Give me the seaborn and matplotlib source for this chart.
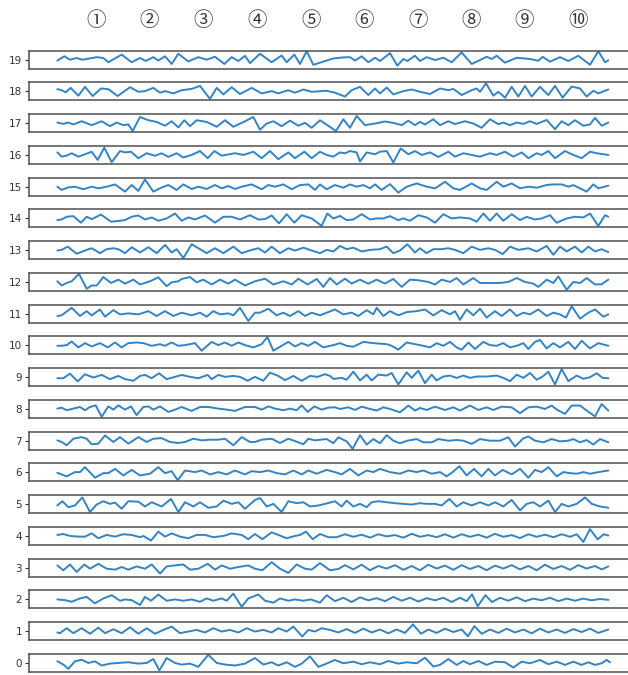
import matplotlib
matplotlib.use("Agg")
import matplotlib.pyplot as plt
import pandas as pd
import seaborn as sns

# Each row: (time, value) pairs
R19 = [(1,-1),(22,4),(39,0),(59,2),(76,0),(99,1.5),(119,3),(139,2),(154,-3),(194,6),(224,-3),(249,2),(266,-1.5),(289,3),(304,-1),(324,4),(344,-5),(364,7),(394,-2),(424,3),(449,0),(474,3.5),(502,-5),(524,3),(544,-1.5),(564,4.5),(579,-4),(609,7),(644,-3),(674,5),(689,-3),(712,6),(729,-5),(749,10),(769,-6),
       (829,1.5),(859,2.7),(879,3),(894,-1),(914,4),(934,-3),(954,2.3),(969,-1.5),(999,7.7),(1021,-7),(1039,0.8),(1051,-1.5),(1074,4.6),(1089,-1.5),(1109,3),(1134,-0.4),(1159,2.3),(1184,-3),(1214,8.5),(1244,-5),(1279,1.5),(1289,3.5),(1304,0.8),(1319,4.6),(1344,-3.5),(1379,2.3),(1419,0.8),(1444,-1.2),(1457,3.5),(1479,-2.3),(1509,3),(1534,-1.5),(1564,4.6),(1599,-6),(1624,10),(1644,-3),(1654,-0.8)]
R18 = [(1,2.7),(14,1.5),(26,-1),(41,4.2),(64,-5),(84,5.4),(107,-5.4),(132,3.5),(154,2.7),(182,-5.4),(219,5),(244,-0.4),(264,0.4),(289,4.2),(309,-1.5),(324,0.4),(349,-2.3),(374,1.5),(404,3),(429,6.5),(459,-8.8),(479,4.2),(499,-3.5),(524,5),(549,-3),(584,4.2),(614,-2.3),(644,0.4),(664,-2.3),(694,1.5),(714,-1.5),(739,2.3),(764,-0.4),
       (809,0.8),(834,-1.5),(864,-6),(884,1.5),(909,5.4),(934,-4.2),(954,3.5),(969,-2.3),(989,4.6),(1009,-3.5),(1039,0.4),(1064,2.3),(1089,-0.4),(1119,-3),(1149,3.5),(1174,1.5),(1189,3),(1214,-4.2),(1244,1.5),(1259,3.5),(1269,-0.4),(1287,9.6),(1309,-5),(1324,-0.4),(1344,-7.3),(1364,5.4),(1384,-6),(1404,6.5),(1424,-6),(1449,5.4),(1474,-4.2),(1494,6.5),(1517,-7.3),(1544,5.8),(1569,3.5),(1589,-6),(1609,0.8),(1624,-2.3),(1654,2.3)]
R17 = [(1,0.8),(19,-0.8),(34,0.8),(49,-1.5),(74,2.3),(104,-2.3),(134,2.3),(159,-3.5),(179,0.8),(199,-2.3),(214,-1.5),(227,-9.2),(249,7.3),(274,3.5),(299,1.5),(324,-3),(344,2.3),(364,-5),(382,3.5),(399,-3.5),(419,3.5),(449,1.5),(479,-4.2),(504,3.5),(529,-4.2),(564,2.3),(589,7.3),(609,-7.7),(629,-0.4),(649,2.3),(674,-3.5),(699,3),(724,-3),(744,0.4),(764,-5.4),(789,3.5),
       (837,-9.2),(859,4.6),(879,-5.4),(899,8.5),(924,-2.3),(954,-0.4),(984,2),(1009,0.4),(1034,-2.3),(1054,3),(1074,-2.3),(1089,1.5),(1104,-1.5),(1129,4.6),(1149,-2.3),(1174,2.3),(1194,-1),(1224,2.3),(1249,-0.4),(1274,-5.4),(1299,4.6),(1324,-1.2),(1339,0.8),(1359,-2.3),(1379,0.8),(1399,-0.8),(1419,2.3),(1439,-0.8),(1469,3.8),(1494,-7),(1514,2.3),(1534,-2.3),(1554,3.5),(1579,-3),(1599,-1.5),(1614,6.2),(1634,-3),(1654,0.8)]
R16 = [(1,3),(14,-2),(29,-0.8),(44,2),(64,-2),(84,0.8),(104,3.8),(122,-5.8),(142,8.5),(164,-8.5),(189,4.6),(204,3),(222,3.8),(244,-3.8),(269,2),(294,-1),(314,2),(334,-2.3),(359,2),(379,-3),(404,0),(429,4.6),(452,-3.8),(472,4.6),(494,-0.8),(534,2),(559,0),(589,3.8),(614,-3.8),(639,4.6),(664,-5),(694,3),(714,-3.8),(742,3.8),(764,-3.8),
       (789,3.8),(809,0),(829,-2),(849,3),(864,1.9),(879,4.6),(899,3),(909,-7.7),(929,3),(954,0.8),(969,3.8),(989,4.6),(1009,-8.8),(1031,7.7),(1054,0.8),(1074,4.6),(1094,0),(1119,3),(1144,-2.3),(1174,3.8),(1194,-2),(1219,2),(1244,0),(1269,-2),(1299,2),(1319,0),(1344,3.8),(1369,-2),(1394,3),(1414,-3.8),(1439,2),(1454,0),(1474,4.6),(1494,-3.8),(1524,4.6),(1549,0),(1574,-3.8),(1599,3.8),(1619,2),(1654,0)]
R15 = [(1,0),(14,-3.8),(34,-0.8),(54,0),(79,-3),(104,0),(124,-1.9),(149,0),(174,2.7),(204,-5.8),(224,2),(244,-5),(264,8.5),(289,-5.8),(314,-1),(334,2),(359,-3.8),(379,2.7),(404,-2.7),(424,0),(449,-2.7),(474,2),(494,-1.9),(514,0.8),(534,-2.7),(554,0),(584,2.7),(614,-3),(634,2),(654,0),(679,2.7),(704,-3),(729,1.9),(754,2.7),(774,-3.8),
       (789,2.7),(809,-3),(834,2),(859,-1.2),(879,2.7),(899,0),(919,1.9),(939,-1.9),(954,2.7),(974,-3.8),(999,3),(1024,-7),(1049,0),(1079,3.8),(1109,0),(1134,-2),(1164,5.8),(1189,-1.9),(1209,-3.8),(1244,3.8),(1269,-1.9),(1289,-3.8),(1319,5.8),(1339,0),(1364,3.8),(1389,-1.9),(1414,0),(1439,-1.2),(1469,2),(1489,2.7),(1514,2.7),(1534,0),(1549,1.9),(1569,-1.9),(1589,-5.8),(1609,2.7),(1624,-1.9),(1654,1.2)]
R14 = [(1,-2),(14,-1.2),(29,2),(49,2.7),(72,-5),(89,2),(104,-0.8),(132,4.6),(162,-3.8),(189,-2.7),(204,-1.9),(224,2),(244,3.5),(264,-1.2),(284,1.2),(304,-2.7),(329,0),(354,5.8),(374,-2.7),(394,1.2),(414,-1.2),(444,3.5),(474,-5),(499,2),(524,2),(549,-1.2),(579,3.8),(604,-1.2),(624,-0.8),(644,3.5),(666,-5.8),(689,5),(712,-5),(734,3.8),(764,0),(794,-8.8),(811,5.8),
       (829,0),(849,3),(869,-2),(889,-1.2),(914,5),(939,-1.2),(959,0),(979,0),(999,2.7),(1024,-2),(1039,0),(1059,-2.7),(1084,3.8),(1109,1.2),(1134,-5),(1159,5),(1184,0),(1209,1.2),(1239,0),(1259,-3.8),(1279,5.8),(1299,-2.7),(1319,5.8),(1339,-2.7),(1364,5),(1389,-1.9),(1409,1.9),(1434,-1.2),(1454,0),(1479,3.8),(1499,-5),(1529,0),(1554,2),(1579,1.2),(1599,5.8),(1624,-8.8),(1644,3.8),(1654,2)]
R13 = [(1,-0.4),(14,0.4),(32,4.2),(59,-4.2),(89,0.4),(104,2.3),(129,-3.5),(149,1.2),(169,2.3),(184,1.2),(204,-3.5),(224,3.5),(249,-2.7),(274,3.5),(299,-3.5),(324,6.2),(344,-2.7),(359,1.2),(379,-9.2),(404,7),(429,1.2),(449,-3.5),(474,2.3),(499,-3.5),(529,4.2),(554,-3.5),(584,0.4),(604,2.3),(624,-2.7),(644,4.2),(669,-3.5),(694,2.3),(714,-0.4),(739,3),(764,-0.4),
       (789,-3.5),(809,0.4),(829,-1.5),(849,5),(869,1.2),(889,3),(914,-1.5),(939,0.4),(969,1.2),(989,4.2),(1009,-3.5),(1029,-0.4),(1051,7),(1074,-2.7),(1089,2.3),(1109,-3.5),(1129,1.2),(1154,1.2),(1174,2.3),(1194,0.4),(1219,-3.5),(1244,4.2),(1269,0.4),(1294,2.3),(1314,0.4),(1337,-4.6),(1359,4.2),(1384,0.4),(1414,2.3),(1439,-1.5),(1469,5),(1489,-5.4),(1509,4.2),(1529,-1.5),(1554,4.2),(1574,-2.7),(1594,4.2),(1614,-1.5),(1634,1.2),(1654,-2.3)]
R12 = [(1,0.8),(14,-4.2),(29,-1.2),(44,0.8),(66,9.6),(89,-8),(104,-4.2),(119,-4.2),(139,5.8),(162,-1.2),(184,2.7),(204,-2),(229,2.7),(249,-3),(279,0.8),(304,5.4),(329,-5),(344,-0.4),(364,0.8),(374,3.5),(399,5.8),(419,-0.4),(439,2.7),(464,-3),(489,2.7),(514,-2),(534,2.7),(564,-4.2),(594,0.8),(624,3.8),(649,-3),(679,0.8),(704,-3),(724,3.8),(752,-3),(779,3.5),(799,-5.8),
       (819,4.6),(839,-3),(864,3.8),(884,-1.9),(909,2.7),(934,-2),(959,2.7),(984,-1.9),(1009,3.5),(1034,-5.8),(1059,2.7),(1084,2),(1114,0),(1134,-3),(1154,2.7),(1179,0),(1199,4.6),(1219,-3),(1249,4.6),(1269,-1.2),(1299,-1.2),(1329,-1.2),(1354,0),(1379,4.6),(1404,0),(1429,-2),(1444,-5.8),(1469,2.7),(1489,-1.2),(1504,6.5),(1529,-9.2),(1549,0),(1569,-1.2),(1589,4.6),(1614,-3),(1634,-2.7),(1654,2.7)]
R11 = [(1,-2.7),(14,-1.9),(44,6.9),(69,-2.7),(89,3),(104,-2),(129,5),(144,-3.5),(169,4.2),(189,-0.8),(214,0.4),(244,-0.8),(274,3),(299,-2.7),(324,3),(349,-2.7),(374,1.2),(404,-1.9),(429,1.2),(449,-3.5),(469,3),(489,-0.8),(514,0.4),(529,-1.9),(549,6.9),(574,-8.5),(594,1.2),(609,1.2),(634,5.8),(659,-1.9),(679,1.2),(699,-2.7),(724,3),(744,-2.7),(764,1.2),(789,-1.9),
       (834,5),(859,-0.8),(884,1.2),(904,-2.7),(929,4.2),(949,-0.8),(959,6.9),(979,-2.7),(999,3),(1024,-1.9),(1049,1.9),(1079,3),(1104,5),(1129,-2),(1154,4.2),(1179,-0.8),(1194,3),(1209,-7.3),(1229,5),(1249,-1.9),(1269,5.8),(1289,-4.6),(1314,3),(1334,-2.7),(1359,5),(1379,-2.7),(1399,1.2),(1419,-0.8),(1444,5),(1469,-2.7),(1489,1.2),(1509,-0.8),(1527,-4.6),(1544,8.8),(1569,-5.8),(1594,1.2),(1614,5),(1639,-3.5),(1654,-0.8)]
R10 = [(1,-0.4),(14,-0.4),(29,0.4),(44,4.6),(64,-2.3),(84,2.7),(104,-1.2),(129,2.7),(152,-2.3),(174,3.5),(194,-2.3),(214,2.7),(239,3.5),(259,2.7),(284,-0.4),(309,1.5),(324,-0.4),(344,3.5),(364,-0.4),(384,0.4),(414,2.7),(434,-6.2),(464,4.2),(484,0.4),(504,3.5),(524,-0.4),(544,3.5),(564,0.4),(589,-2.3),(614,1.5),(631,10),(649,-6.2),(674,-0.4),(694,4.2),(714,-1.2),(734,2.7),(754,-0.4),(774,4.2),(799,-2.3),
       (829,0.4),(849,2.7),(869,-0.4),(889,-1.5),(919,4.2),(949,2.7),(989,1.5),(1004,-0.4),(1024,-5),(1049,3.5),(1074,1.5),(1099,-0.4),(1119,-2.3),(1139,2.7),(1159,-0.4),(1179,4.2),(1199,-2.3),(1214,-5),(1234,3.5),(1254,-4.2),(1279,4.2),(1299,0.4),(1319,-0.4),(1339,2.7),(1359,-2.3),(1379,-0.4),(1399,2.7),(1414,-4.2),(1434,4.2),(1449,6.5),(1469,-3.5),(1489,2.7),(1509,-2.3),(1534,4.2),(1554,-4.2),(1574,5.4),(1599,-3.5),(1624,2.7),(1654,-0.4)]
R9 = [(1,-1.2),(19,-1.2),(39,4.2),(62,-5),(84,3.5),(109,-0.4),(134,2.7),(159,-2.3),(184,1.5),(204,-2.3),(229,-4.2),(249,1.5),(264,2.7),(284,-1.2),(306,4.6),(329,-2.3),(354,0.4),(374,2.7),(399,0.4),(424,-1.2),(452,2.7),(464,-2.3),(484,2.7),(504,0.4),(529,1.5),(549,0.4),(572,-4.2),(594,0.4),(619,-4.2),(639,5.4),(664,1.5),(684,-3.5),(709,1.5),(734,-4.2),(759,1.5),(782,0.4),(804,3.5),(819,1.5),
      (829,-2),(854,-0.8),(869,-3),(889,6.5),(909,-3.8),(929,3),(944,-3.8),(964,3),(989,1.9),(1004,5),(1024,-8.5),(1049,5.8),(1064,-0.8),(1084,7.7),(1104,-7),(1124,3),(1139,-3.8),(1159,0.8),(1179,1.9),(1199,-0.8),(1219,1.9),(1239,-0.8),(1259,0.8),(1289,0.8),(1319,1.9),(1339,-0.8),(1359,-4.6),(1379,3),(1399,-0.8),(1419,5),(1439,-3),(1457,0.8),(1474,6.5),(1494,-8.5),(1514,9.6),(1534,-4.6),(1559,1.9),(1579,-1.9),(1599,0),(1619,4.6),(1637,-0.8),(1654,-1.2)]
R8 = [(1,0.4),(14,1.5),(29,-1.5),(49,0.4),(69,2.3),(84,-1.5),(99,2.3),(116,4.2),(134,-9.2),(154,3),(169,-0.8),(184,4.2),(204,-0.8),(222,3),(239,-7.3),(259,2.3),(274,3),(289,-0.8),(309,3),(334,-3.5),(354,-0.8),(374,2.3),(404,-2.3),(429,2.3),(454,2.3),(484,0.4),(509,-0.8),(534,-2.3),(564,2.3),(594,2.3),(614,-0.8),(634,3),(654,0.4),(679,-1.5),(699,0.4),(719,-1.5),(734,4.2),(752,-3.5),(772,3),(794,-0.8),(814,1.5),
      (834,1.9),(849,0),(874,1.9),(894,-1.2),(914,2.7),(939,0),(959,-1.9),(979,1.9),(999,0),(1029,-4),(1054,4),(1074,-1.9),(1089,1.2),(1109,-1.2),(1134,2.7),(1164,-1.2),(1189,1.9),(1209,-1.9),(1239,4),(1264,-1.2),(1289,1.9),(1309,-1.2),(1334,2.7),(1364,1.9),(1389,-5),(1414,1.9),(1439,2.7),(1464,0),(1484,4),(1501,-1.2),(1524,-5.8),(1544,4),(1569,4),(1589,-1.9),(1614,-8.8),(1634,5.8),(1654,-2)]
R7 = [(1,0.4),(14,-1.5),(29,-5.4),(49,2.3),(74,4.2),(89,2.3),(104,-4.2),(124,-3.5),(144,6.2),(169,-1.5),(189,4.2),(214,-3.5),(244,4.2),(269,-1.5),(289,2.3),(314,3),(339,-1.5),(364,-2.7),(384,-1.5),(409,2.3),(434,0.4),(459,1.2),(484,1.2),(504,2.3),(529,-5.4),(554,4.2),(579,-1.5),(594,-1.5),(614,1.2),(644,2.3),(669,-2.7),(694,2.3),(714,-0.4),(739,-4.2),(754,2.3),(774,0.4),
      (809,2),(829,-3),(844,4),(869,-0.8),(887,-9.6),(909,6.5),(929,-4.6),(949,1.9),(969,-3),(989,6.5),(1009,0),(1029,-3),(1051,0),(1079,1.9),(1099,-1.9),(1124,-1.9),(1144,1.9),(1174,0),(1199,0.8),(1219,0),(1244,-3.8),(1269,1.9),(1299,0),(1329,0),(1354,4),(1374,-6.9),(1399,2.7),(1414,5),(1434,0),(1459,-1.9),(1484,1.9),(1509,-0.8),(1534,0),(1549,1.9),(1569,-1.9),(1589,0.8),(1609,-4.6),(1629,1.9),(1654,-1.9)]
R6 = [(1,-0.4),(14,-2.3),(29,-4.6),(54,0.4),(69,0.4),(84,6.2),(114,-6.2),(139,-0.8),(154,-0.8),(174,4.2),(199,-3.5),(224,3),(249,-3.5),(279,-1.5),(304,6.2),(324,-0.8),(344,1.5),(362,-9.2),(384,2.3),(414,0.4),(434,2.3),(459,-2.3),(484,0.4),(509,-2.3),(534,2.3),(564,-2.3),(584,1.5),(609,0.4),(634,2.3),(659,-0.8),(684,-2.3),(709,2.3),(734,-2.3),(754,2.3),(779,-1.5),
      (809,3),(834,0.4),(854,-2.3),(879,4.2),(904,-3.5),(929,2.3),(949,0.4),(969,4.2),(999,0.4),(1029,-1.5),(1054,2.3),(1079,0.4),(1099,2.3),(1124,-1.5),(1149,0.4),(1169,-4.6),(1187,0.4),(1207,7.3),(1229,-3.5),(1251,4.2),(1274,-4.6),(1294,4.2),(1314,-3.5),(1337,3),(1364,-2.3),(1389,4.2),(1414,-6.2),(1434,3),(1454,0.4),(1474,6.2),(1499,-4.6),(1519,0.4),(1539,-0.8),(1559,-1.5),(1579,0.4),(1599,-1.5),(1624,0.4),(1654,2.3)]
R5 = [(1,-1.5),(16,3.5),(34,-3.5),(54,-1.5),(76,8),(99,-9.2),(119,-0.4),(139,3.5),(159,0.4),(174,1.9),(194,-5.4),(214,3.5),(244,3),(264,-2.7),(284,2.3),(314,-2.7),(342,6.2),(364,-9.2),(384,2.3),(409,-2.7),(429,2.3),(454,-4.2),(479,-2.7),(499,4.2),(524,0.4),(544,2.3),(564,-5.4),(594,5),(609,7.3),(629,-2.7),(649,0.4),(674,-9.2),(694,3.5),(719,1.2),(739,2.3),(759,-2.7),(784,-1.5),(804,0.4),
      (834,3.5),(854,-2.7),(869,4.2),(889,-2.7),(909,0.4),(929,-3.5),(944,2.3),(964,3.5),(989,2.3),(1014,1.2),(1039,0.4),(1064,-0.4),(1089,1.2),(1109,0.4),(1134,0.4),(1154,-1.5),(1177,6.2),(1199,-2.7),(1219,2.3),(1244,-1.5),(1269,2.3),(1294,-1.5),(1314,2.3),(1339,-2.7),(1364,5),(1389,-7.3),(1409,0.4),(1429,2.3),(1449,-2.7),(1474,4.2),(1494,-9.2),(1514,0.4),(1534,-2.7),(1559,0.4),(1584,8),(1604,0.4),(1629,-2.7),(1654,-4.2)]
R4 = [(1,1.2),(19,2.3),(39,0),(64,-0.8),(84,-0.8),(104,3),(124,-2.7),(149,1.2),(174,-0.8),(199,2),(224,1.2),(249,-1.5),(259,0),(282,-5.4),(304,5),(324,-0.8),(344,3),(369,-0.8),(394,-2.7),(419,1.2),(444,1.2),(469,-1.5),(499,0),(524,3),(554,1.2),(574,-3.8),(594,2.3),(616,-3.8),(644,4.2),(664,1.2),(689,-2.7),(714,0),(729,1.2),(747,5),(767,-3.8),(789,2.3),(814,-1.5),
      (839,-1.5),(864,2),(889,-1),(914,1.5),(939,-2),(964,2),(989,-0.5),(1014,1),(1039,-2),(1064,2.5),(1089,-1),(1114,1),(1139,-1.5),(1164,2),(1189,-2),(1214,2),(1239,-1),(1264,1.5),(1289,-2),(1314,2.5),(1339,-1),(1364,1),(1389,-2.5),(1414,2),(1439,-1),(1464,1.5),(1489,-1.5),(1514,2),(1539,-1),(1559,2),(1579,-7),(1599,8),(1622,-4),(1640,2),(1654,0.5)]
R3 = [(1,2.7),(19,-3),(39,3.8),(59,-5),(82,3.8),(99,-1.2),(124,4.6),(149,-1.2),(174,-2.3),(194,0.8),(214,-2.3),(239,1.5),(264,-1.2),(284,3.8),(309,-6.9),(329,1.5),(354,2.7),(379,3.8),(399,-2.3),(424,-1.2),(452,4.6),(474,-2.3),(494,2.7),(519,-1.2),(544,0.8),(574,2.7),(594,-1.2),(616,-3),(644,6.5),(669,-1.2),(694,-6.2),(719,3.8),(744,-1.2),(764,-2.3),(789,5.4),(819,-3),
      (844,-1.5),(864,3),(889,-2),(914,3.5),(939,-3),(964,2),(989,-1),(1014,3),(1039,-2.5),(1064,2),(1089,-3),(1114,3.5),(1139,-1),(1164,2.5),(1189,-2.5),(1214,3),(1239,-1.5),(1264,2),(1289,-3),(1314,2.5),(1339,-1),(1364,3),(1389,-2),(1414,2),(1439,-3),(1464,3.5),(1489,-1.5),(1514,2),(1539,-2.5),(1564,3),(1589,-1),(1614,2),(1634,-2),(1654,1.5)]
R2 = [(1,0),(24,-0.8),(44,-2.7),(69,1.2),(89,3),(114,-4.6),(139,1.2),(164,5),(189,-1.5),(204,0),(224,-0.8),(249,-6.5),(264,3),(282,-1.5),(304,5.8),(329,-1.5),(354,0),(379,-1.5),(404,0),(429,-2.7),(449,1.2),(469,-1.5),(494,1.2),(509,-1.5),(529,6.9),(554,-8.5),(574,1.2),(604,5.8),(624,-1.5),(649,-3.8),(669,1.2),(694,-1.5),(714,0),(739,-1.5),(762,0),(789,-3.8),(809,5),
      (834,-2),(859,2),(884,-3),(909,2.5),(934,-1),(959,1.5),(984,-2),(1009,3),(1034,-1.5),(1059,2),(1084,-2.5),(1109,1.5),(1134,-1),(1159,2),(1184,-3),(1209,2),(1229,-2),(1245,6),(1262,-8),(1285,5),(1305,-3),(1329,2),(1354,-1.5),(1379,2.5),(1404,-2),(1429,1),(1454,-1),(1479,2),(1504,-2),(1529,1),(1554,-1.5),(1579,1),(1604,-1),(1629,0.5),(1654,-0.5)]
R1 = [(1,-1.5),(9,-2.3),(29,3.5),(49,-2.3),(74,3.5),(99,-3),(124,4.2),(144,-2.3),(169,2.3),(194,-2.3),(219,4.6),(244,-3),(269,3.5),(294,-3),(319,1.5),(344,5.4),(369,-2.3),(394,-0.4),(419,1.5),(444,-1.5),(469,3.5),(494,-0.4),(519,1.5),(544,-1.5),(569,3.5),(594,-0.4),(619,1.5),(644,-1.5),(664,3.5),(689,-0.4),(709,5.4),(736,-6.2),(754,1.5),(774,-0.4),(794,3.5),(819,1.5),
      (844,-1.5),(869,2.5),(894,-2),(919,3),(944,-1.5),(969,2),(994,-2.5),(1019,2),(1044,-2),(1068,8),(1092,-3),(1114,2),(1139,-2),(1164,3),(1189,-1),(1214,2),(1233,-6),(1252,6),(1274,-3),(1299,2),(1324,-2),(1349,3),(1374,-1.5),(1399,2),(1424,-2.5),(1449,3),(1474,-1.5),(1499,2),(1524,-2),(1549,2.5),(1574,-1),(1599,3),(1624,-2),(1654,2)]
R0 = [(1,2),(19,-1.9),(34,-6.9),(54,1.9),(74,3.8),(94,0),(114,1.9),(134,-3),(159,-0.8),(184,0),(214,0.8),(244,-0.8),(269,0),(289,4.6),(307,-8.8),(329,5.8),(354,0),(374,-1.9),(399,-0.8),(424,-4.6),(454,9.6),(479,0),(504,-1.9),(534,-3),(564,-0.8),(594,5.8),(619,-1.9),(644,0.8),(664,-3),(689,0.8),(714,-4.6),(734,-0.8),(759,7.7),(784,-4.6),
      (804,-1.5),(834,3.5),(859,-0.4),(889,1.5),(914,-1.5),(939,0.8),(969,-1.5),(994,2.3),(1024,-0.8),(1049,0.8),(1079,-0.4),(1104,6.2),(1129,-4.2),(1149,-2.3),(1174,4.6),(1199,-2.3),(1219,2.3),(1239,-1.5),(1264,2.3),(1289,-2.3),(1314,1.5),(1344,0.8),(1369,-5.4),(1394,1.5),(1419,-0.4),(1449,3.5),(1474,-1.5),(1499,1.5),(1524,-2.3),(1549,1.5),(1574,-2.3),(1594,0.8),(1614,-2.3),(1634,-0.4),(1649,3.5),(1659,0.8)]

ROWS = [R0, R1, R2, R3, R4, R5, R6, R7, R8, R9, R10, R11, R12, R13, R14, R15, R16, R17, R18, R19]
ROW_LABELS = [str(i) for i in range(20)]
COLUMN_LABELS = ["①", "②", "③", "④", "⑤", "⑥", "⑦", "⑧", "⑨", "⑩"]
COLUMN_X_PX = [96, 149, 203, 257, 311, 364, 418, 471, 524, 578]

sns.set_theme(style="white")
plt.rcParams["font.family"] = ["DejaVu Sans"]

W, H = 628, 675
fig = plt.figure(figsize=(W / 100, H / 100), dpi=100)

LINE_COLOR = "#3384c4"
left_px, right_px = 29, 640
row_h = 18
for k, pts in enumerate(ROWS):
    df = pd.DataFrame(pts, columns=["t", "v"])
    top = 50.7 + (19 - k) * 31.75
    ax = fig.add_axes([left_px / W, 1 - (top + row_h) / H, (right_px - left_px) / W, row_h / H])
    sns.lineplot(data=df, x="t", y="v", ax=ax, color=LINE_COLOR, linewidth=1.4,
                 estimator=None, sort=False, solid_joinstyle="round", solid_capstyle="round")
    ax.set_xlim(-(57 - left_px) * 3, (right_px - 57) * 3)
    ax.set_ylim(-10.6, 10.6)
    ax.set_xticks([])
    ax.set_yticks([0])
    ax.set_yticklabels([ROW_LABELS[k]])
    ax.set_xlabel("")
    ax.set_ylabel("")
    ax.tick_params(axis="y", left=True, length=3, width=0.8, labelsize=7.5,
                   colors="#333333", pad=2)
    for s in ax.spines.values():
        s.set_color("#505050")
        s.set_linewidth(1.1)

for lab, xp in zip(COLUMN_LABELS, COLUMN_X_PX):
    fig.text(xp / W, 1 - 20 / H, lab, ha="center", va="center", fontsize=14,
             color="#333333", family=["Noto Sans CJK JP", "DejaVu Sans"])

fig.savefig("out.png", dpi=100)
